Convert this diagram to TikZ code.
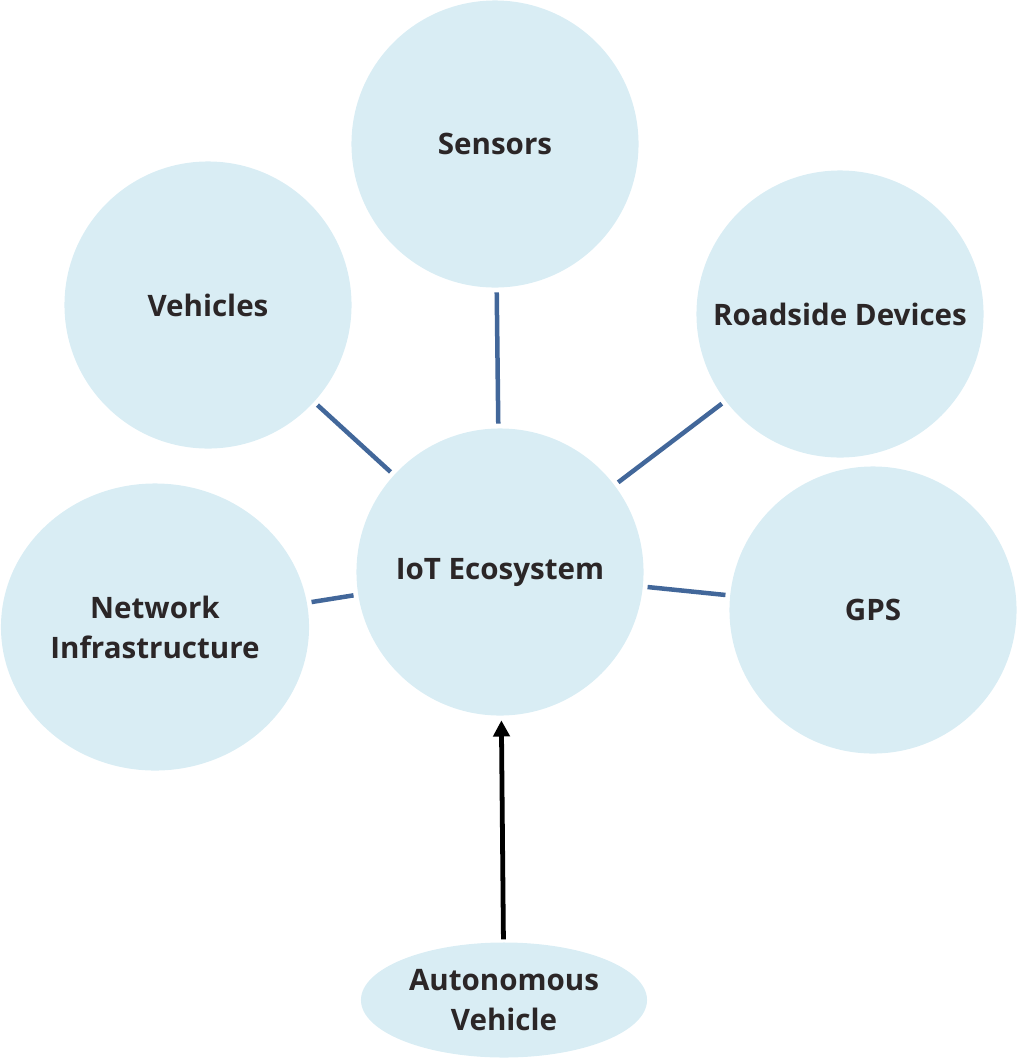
\documentclass[tikz,border=0pt]{standalone}
\usepackage{fontspec}
\setmainfont{Open Sans}
\usetikzlibrary{positioning,arrows.meta,shapes.geometric}
\definecolor{BubbleFill}{RGB}{217,237,244}
\definecolor{LinkBlue}{RGB}{66,103,154}
\definecolor{LabelInk}{RGB}{43,38,39}
\tikzset{
  bubble/.style={ellipse,fill=BubbleFill,minimum width=7.175cm,minimum height=7.175cm,
    inner sep=0pt,inner xsep=-0.8cm,outer sep=0.12cm,align=center,text=LabelInk,
    font=\fontsize{21}{28.5}\selectfont\bfseries},
  link/.style={line width=3.2pt,draw=LinkBlue},
  feed/.style={-{Triangle[length=11.5pt,width=11.5pt]},line width=3.4pt,draw=black}
}
\begin{document}
\begin{tikzpicture}[x=0.025cm,y=-0.025cm]
  \useasboundingbox (0,0) rectangle (1017,1060);
  \node[bubble] (iot) at (500,572) {IoT Ecosystem};
  \node[bubble] (sensors) at (495,144) {Sensors};
  \node[bubble] (vehicles) at (208,305) {Vehicles};
  \node[bubble] (roadside) at (840,314) {Roadside Devices};
  \node[bubble,minimum width=7.7cm] (network) at (155,627) {Network\\Infrastructure};
  \node[bubble] (gps) at (873,610) {GPS};
  \node[bubble,minimum width=7.15cm,minimum height=2.875cm,outer sep=0.08cm] (auto) at (504,1000) {Autonomous\\Vehicle};
  \draw[link] (sensors) -- (iot);
  \draw[link] (vehicles) -- (iot);
  \draw[link] (roadside) -- (iot);
  \draw[link] (network) -- (iot);
  \draw[link] (gps) -- (iot);
  \draw[feed] (auto) -- (iot);
\end{tikzpicture}
\end{document}
